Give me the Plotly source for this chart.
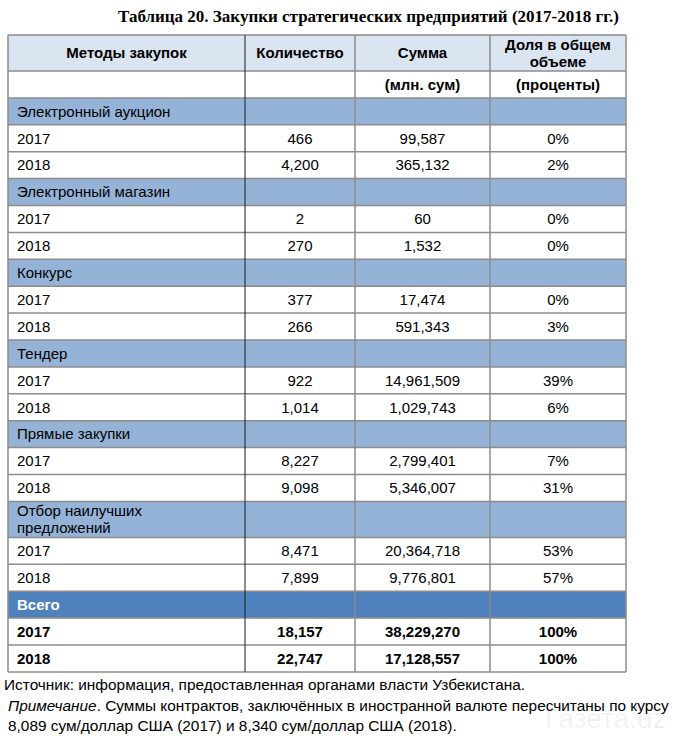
import plotly.graph_objects as go

# ---- data ----
title = "Таблица 20. Закупки стратегических предприятий (2017-2018 гг.)"
col_headers = ["Методы закупок", "Количество", "Сумма", "Доля в общем<br>объеме"]
unit_row = ["", "", "(млн. сум)", "(проценты)"]
methods = ["Электронный аукцион", "Электронный магазин", "Конкурс", "Тендер",
           "Прямые закупки", "Отбор наилучших<br>предложений"]
years = ["2017", "2018"]
counts = [[466, 4200], [2, 270], [377, 266], [922, 1014], [8227, 9098], [8471, 7899]]
sums = [[99587, 365132], [60, 1532], [17474, 591343], [14961509, 1029743],
        [2799401, 5346007], [20364718, 9776801]]
shares = [[0, 2], [0, 0], [0, 3], [39, 6], [7, 31], [53, 57]]
total_label = "Всего"
total_counts = [18157, 22747]
total_sums = [38229270, 17128557]
total_shares = [100, 100]
source_text = "Источник: информация, предоставленная органами власти Узбекистана."
note_text = ("<i>Примечание</i>. Суммы контрактов, заключённых в иностранной валюте "
             "пересчитаны по курсу<br>8,089 сум/доллар США (2017) и 8,340 сум/доллар США (2018).")
watermark = "Газета.uz"

# ---- styles / layout ----
W, H = 680, 743
KIND_COLORS = ["#ffffff", "#dbe5f1", "#95b3d7", "#4f81bd"]  # white, header, section, total
LINE_GREY = "#8c8c8c"
LINE_DARK = "#1a1a1a"
FONT = "Liberation Sans, Arial, sans-serif"
FS = 15
FOOT_FS = 15.4
TABLE_LEFT, TABLE_TOP = 8, 35
COL_WIDTHS = [237, 110, 135, 136]
ROW_H, TALL_H = 26.9, 36
PAD_LEFT = 9
LINE_GAP = 17
TEXT_DY = 1.5


def fmt(n):
    return f"{n:,}"


rows = []  # (texts, kind, bold, height)
rows.append((col_headers, 1, True, TALL_H))
rows.append((unit_row, 0, True, ROW_H))
for m, cnt, sm, sh in zip(methods, counts, sums, shares):
    rows.append(([m, "", "", ""], 2, False, TALL_H if "<br>" in m else ROW_H))
    for y, a, b, c in zip(years, cnt, sm, sh):
        rows.append(([y, fmt(a), fmt(b), f"{c}%"], 0, False, ROW_H))
rows.append(([total_label, "", "", ""], 3, True, ROW_H))
for y, a, b, c in zip(years, total_counts, total_sums, total_shares):
    rows.append(([y, fmt(a), fmt(b), f"{c}%"], 0, True, ROW_H))

# edges
x_edges = [TABLE_LEFT]
for w in COL_WIDTHS:
    x_edges.append(x_edges[-1] + w)
y_edges = [TABLE_TOP]
for r in rows:
    y_edges.append(y_edges[-1] + r[3])

z = [[r[1]] * 4 for r in rows]
n = len(KIND_COLORS) - 1
colorscale = [[i / n, col] for i, col in enumerate(KIND_COLORS)]

fig = go.Figure()
fig.add_trace(go.Heatmap(x=x_edges, y=y_edges, z=z, zmin=0, zmax=n,
                         colorscale=colorscale, showscale=False, hoverinfo="skip"))

# texts, one trace per column
for ci in range(4):
    xs, ys, ts, cols, pos = [], [], [], [], []
    for ri, r in enumerate(rows):
        t = r[0][ci]
        if not t:
            continue
        yc = (y_edges[ri] + y_edges[ri + 1]) / 2 + TEXT_DY
        left = ci == 0 and r[1] != 1
        x = x_edges[0] + PAD_LEFT if left else (x_edges[ci] + x_edges[ci + 1]) / 2
        parts = t.split("<br>")
        for k, p in enumerate(parts):
            xs.append(x)
            ys.append(yc + (k - (len(parts) - 1) / 2) * LINE_GAP)
            ts.append(f"<b>{p}</b>" if r[2] else p)
            cols.append("#ffffff" if r[1] == 3 else "#000000")
            pos.append("middle right" if left else "middle center")
    fig.add_trace(go.Scatter(x=xs, y=ys, text=ts, mode="text", textposition=pos,
                             textfont=dict(family=FONT, size=FS, color=cols),
                             hoverinfo="skip", showlegend=False))

# borders
shapes = []
for ye in y_edges:
    shapes.append(dict(type="line", xref="x", yref="y", x0=x_edges[0], x1=x_edges[-1],
                       y0=ye, y1=ye, line=dict(color=LINE_GREY, width=1.5), layer="above"))
for i, xe in enumerate(x_edges):
    color = LINE_DARK if i == 1 else LINE_GREY
    width = 1 if i == 1 else 1.5
    shapes.append(dict(type="line", xref="x", yref="y", x0=xe, x1=xe,
                       y0=y_edges[0], y1=y_edges[-1], line=dict(color=color, width=width),
                       layer="above"))

fig.add_annotation(x=368, y=16, xref="x", yref="y", text="<b>" + title + "</b>",
                   showarrow=False, xanchor="center", yanchor="middle",
                   font=dict(family="Liberation Serif, Times New Roman, serif", size=17,
                             color="#000000"))
fig.add_annotation(x=2, y=y_edges[-1] + 13, xref="x", yref="y", text=source_text,
                   showarrow=False, xanchor="left", yanchor="middle",
                   font=dict(family=FONT, size=FOOT_FS, color="#000000"))
fig.add_annotation(x=6, y=y_edges[-1] + 44, xref="x", yref="y", text=note_text,
                   showarrow=False, xanchor="left", yanchor="middle", align="left",
                   font=dict(family=FONT, size=FOOT_FS, color="#000000"))
fig.add_annotation(x=668, y=718, xref="x", yref="y", text=watermark, showarrow=False,
                   xanchor="right", yanchor="middle",
                   font=dict(family=FONT, size=28, color="rgba(0,0,0,0.06)"))

fig.update_layout(
    width=W, height=H, margin=dict(l=0, r=0, t=0, b=0),
    paper_bgcolor="#ffffff", plot_bgcolor="#ffffff", showlegend=False,
    xaxis=dict(range=[0, W], visible=False, fixedrange=True),
    yaxis=dict(range=[H, 0], visible=False, fixedrange=True),
    shapes=shapes,
)
fig.write_html("out.html", config={"displayModeBar": False},
               post_script="document.body.style.margin='0';")
